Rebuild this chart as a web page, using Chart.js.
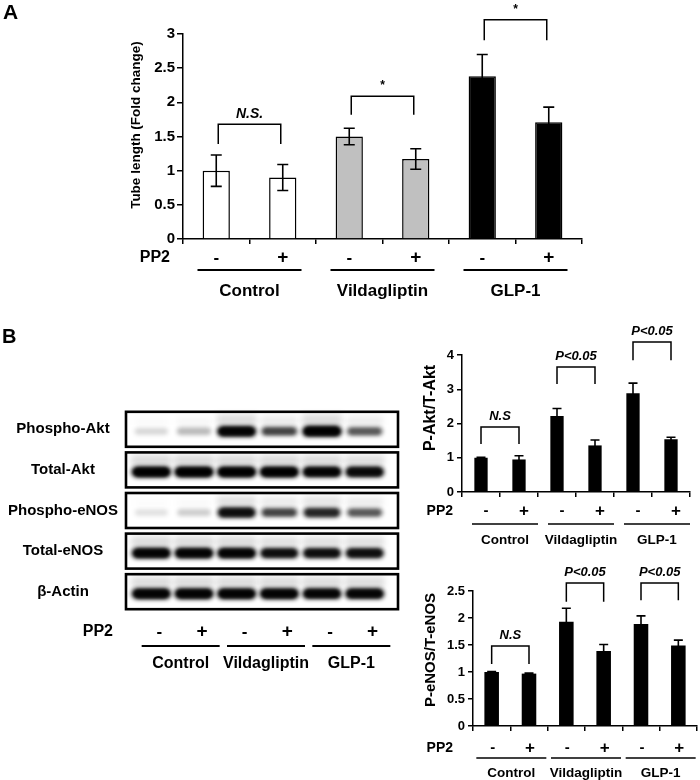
<!DOCTYPE html>
<html><head><meta charset="utf-8">
<script src="https://cdn.jsdelivr.net/npm/chart.js@4.4.1/dist/chart.umd.min.js"></script>
<style>
html,body{margin:0;padding:0;background:#fff;}
#wrap{position:relative;width:700px;height:780px;background:#fff;}
#wrap canvas{position:absolute;left:0;top:0;}
</style></head><body>
<div id="wrap">
<canvas id="cA" width="700" height="780"></canvas>
<canvas id="cB1" width="700" height="780"></canvas>
<canvas id="cB2" width="700" height="780"></canvas>
<canvas id="cBlot" width="700" height="780"></canvas>
</div>
<script>
// ---------------- DATA ----------------
const groups = ['Control', 'Vildagliptin', 'GLP-1'];
const pp2 = ['-', '+', '-', '+', '-', '+'];
const lanes = ['Control -', 'Control +', 'Vildagliptin -', 'Vildagliptin +', 'GLP-1 -', 'GLP-1 +'];

const tubeLength    = [1.00, 0.90, 1.50, 1.17, 2.38, 1.71];
const tubeLengthErr = [0.23, 0.19, 0.12, 0.15, 0.32, 0.22];
const sigA = ['N.S.', '*', '*'];

const pAktRatio    = [1.00, 0.95, 2.22, 1.36, 2.88, 1.54];
const pAktRatioErr = [0.01, 0.11, 0.22, 0.16, 0.30, 0.06];
const peNOSRatio    = [1.00, 0.97, 1.93, 1.39, 1.89, 1.49];
const peNOSRatioErr = [0.01, 0.01, 0.25, 0.12, 0.15, 0.10];
const sigB = ['N.S', 'P<0.05', 'P<0.05'];

const yTicksA = [0, 0.5, 1, 1.5, 2, 2.5, 3];
const yTicksAkt = [0, 1, 2, 3, 4];
const yTicksENOS = [0, 0.5, 1, 1.5, 2, 2.5];

const blotRows = ['Phospho-Akt', 'Total-Akt', 'Phospho-eNOS', 'Total-eNOS', 'β-Actin'];
const phosphoAktBands  = [0.16, 0.28, 0.97, 0.62, 1.00, 0.55];
const totalAktBands    = [1.00, 1.00, 1.00, 1.00, 0.97, 0.92];
const phosphoENOSBands = [0.12, 0.20, 0.88, 0.62, 0.75, 0.55];
const totalENOSBands   = [0.97, 0.97, 0.97, 0.88, 0.88, 0.88];
const betaActinBands   = [0.97, 0.97, 0.97, 0.97, 0.95, 0.95];

// ---------------- HELPERS ----------------
const FAM = '"Liberation Sans", Arial, Helvetica, sans-serif';
function fnt(size, bold = true, italic = false) {
  return (italic ? 'italic ' : '') + (bold ? 'bold ' : '') + size + 'px ' + FAM;
}
Chart.defaults.font.family = FAM;
Chart.defaults.color = '#000';

const figPlugin = {
  id: 'figAnnot',
  afterDraw(chart, args, o) {
    const ctx = chart.ctx;
    const ys = chart.scales.y;
    const ds = chart.data.datasets[0];
    const meta = chart.getDatasetMeta(0);
    ctx.save();
    ctx.strokeStyle = '#000';
    ctx.fillStyle = '#000';
    ctx.lineCap = 'butt';
    // error bars
    ctx.lineWidth = o.errWidth;
    ds.data.forEach((v, i) => {
      const e = ds.errors[i];
      const el = meta.data[i];
      const yh = ys.getPixelForValue(v + e), yl = ys.getPixelForValue(v - e);
      ctx.beginPath();
      ctx.moveTo(el.x, yl); ctx.lineTo(el.x, yh);
      ctx.moveTo(el.x - o.cap, yh); ctx.lineTo(el.x + o.cap, yh);
      ctx.moveTo(el.x - o.cap, yl); ctx.lineTo(el.x + o.cap, yl);
      ctx.stroke();
    });
    // brackets
    ctx.lineWidth = o.brWidth;
    ctx.textAlign = 'center';
    ctx.textBaseline = 'middle';
    o.brackets.forEach((b, g) => {
      const x1 = meta.data[2 * g].x + o.brInset, x2 = meta.data[2 * g + 1].x - o.brInset;
      const yt = ys.getPixelForValue(b.top), yl = ys.getPixelForValue(b.leg);
      ctx.beginPath();
      ctx.moveTo(x1, yl); ctx.lineTo(x1, yt); ctx.lineTo(x2, yt); ctx.lineTo(x2, yl);
      ctx.stroke();
      ctx.font = b.text === '*' ? fnt(o.starSize, true) : fnt(o.sigSize, true, true);
      ctx.fillText(b.text, (x1 + x2) / 2, yt - o.sigGap);
    });
    // PP2 row, underlines, groups
    const r = o.row;
    ctx.font = fnt(r.size);
    ctx.textAlign = 'right';
    ctx.fillText('PP2', r.labelX, r.signY);
    ctx.textAlign = 'center';
    pp2.forEach((s, i) => {
      ctx.font = fnt(s === '-' ? r.size + 1 : r.size + 3);
      ctx.fillText(s, meta.data[i].x + r.dx, r.signY);
    });
    ctx.lineWidth = r.lineW;
    groups.forEach((gname, g) => {
      const cx = (meta.data[2 * g].x + meta.data[2 * g + 1].x) / 2 + r.dx;
      ctx.beginPath();
      ctx.moveTo(cx - r.half, r.lineY); ctx.lineTo(cx + r.half, r.lineY);
      ctx.stroke();
      ctx.font = fnt(r.gsize);
      ctx.fillText(gname, cx, r.groupY);
    });
    // y title
    if (o.yTitle) {
      const t = o.yTitle;
      ctx.save();
      ctx.translate(t.x, t.y);
      ctx.rotate(-Math.PI / 2);
      ctx.font = fnt(t.size);
      ctx.textAlign = 'center';
      ctx.textBaseline = 'middle';
      ctx.fillText(t.text, 0, 0);
      ctx.restore();
    }
    if (o.letter) {
      ctx.font = fnt(o.letter.size);
      ctx.textAlign = 'left';
      ctx.textBaseline = 'middle';
      ctx.fillText(o.letter.text, o.letter.x, o.letter.y);
    }
    ctx.restore();
  }
};

function barChart(id, cfg) {
  const ticks = cfg.yTicks;
  return new Chart(document.getElementById(id), {
    type: 'bar',
    data: {
      labels: lanes,
      datasets: [{
        data: cfg.values,
        errors: cfg.errors,
        backgroundColor: cfg.colors,
        borderColor: '#000',
        borderWidth: cfg.borderWidth,
        barPercentage: cfg.barPct,
        categoryPercentage: 1.0
      }]
    },
    options: {
      responsive: false,
      animation: false,
      events: [],
      layout: { padding: cfg.padding },
      plugins: {
        legend: { display: false },
        tooltip: { enabled: false },
        figAnnot: cfg.annot
      },
      scales: {
        x: {
          grid: { display: true, drawOnChartArea: false, drawTicks: true, tickLength: cfg.xTick, color: '#000', lineWidth: 1.5, offset: true },
          border: { display: true, color: '#000', width: 1.5 },
          ticks: { display: false },
          afterFit: s => { s.height = cfg.xTick; }
        },
        y: {
          min: ticks[0], max: ticks[ticks.length - 1],
          afterBuildTicks: s => { s.ticks = ticks.map(v => ({ value: v })); },
          ticks: {
            color: '#000', font: { size: cfg.tickSize, weight: 'bold' }, padding: cfg.tickPad,
            callback: v => String(Number(v))
          },
          grid: { display: true, drawOnChartArea: false, drawTicks: true, tickLength: cfg.yTick, color: '#000', lineWidth: 1.5 },
          border: { display: true, color: '#000', width: 1.5 },
          afterFit: s => { s.width = cfg.yWidth; }
        }
      }
    },
    plugins: [figPlugin]
  });
}

// ---------------- PANEL A ----------------
barChart('cA', {
  values: tubeLength, errors: tubeLengthErr,
  colors: ['#ffffff', '#ffffff', '#c0c0c0', '#c0c0c0', '#000000', '#000000'],
  borderWidth: 1.5, barPct: 0.41,
  padding: { left: 127, right: 118, top: 34, bottom: 536 },
  xTick: 5, yTick: 6, yWidth: 56, tickSize: 15, tickPad: 2, yTicks: yTicksA,
  annot: {
    errWidth: 1.6, cap: 5.5, brWidth: 1.5, brInset: 2, sigGap: 10, sigSize: 14, starSize: 12,
    brackets: [
      { top: 1.68, leg: 1.39, text: sigA[0] },
      { top: 2.09, leg: 1.82, text: sigA[1] },
      { top: 3.21, leg: 2.91, text: sigA[2] }
    ],
    row: { labelX: 170, signY: 258, lineY: 270, groupY: 291, dx: 0, half: 52, size: 16, gsize: 17, lineW: 1.8 },
    yTitle: { text: 'Tube length (Fold change)', x: 136, y: 125, size: 13.5 },
    letter: { text: 'A', x: 3, y: 13, size: 21 }
  }
});

// ---------------- PANEL B : P-Akt/T-Akt ----------------
barChart('cB1', {
  values: pAktRatio, errors: pAktRatioErr,
  colors: '#000000', borderWidth: 0, barPct: 0.35,
  padding: { left: 420, right: 10, top: 355, bottom: 283 },
  xTick: 5, yTick: 5, yWidth: 42, tickSize: 13, tickPad: 3, yTicks: yTicksAkt,
  annot: {
    errWidth: 1.6, cap: 4.5, brWidth: 1.5, brInset: 0, sigGap: 11, sigSize: 13, starSize: 12,
    brackets: [
      { top: 1.90, leg: 1.40, text: sigB[0] },
      { top: 3.65, leg: 3.15, text: sigB[1] },
      { top: 4.38, leg: 3.85, text: sigB[2] }
    ],
    row: { labelX: 453, signY: 511, lineY: 524, groupY: 540, dx: 5, half: 33, size: 14, gsize: 13.5, lineW: 1.6 },
    yTitle: { text: 'P-Akt/T-Akt', x: 431, y: 408, size: 16 },
    letter: { text: 'B', x: 2, y: 337, size: 20 }
  }
});

// ---------------- PANEL B : P-eNOS/T-eNOS ----------------
barChart('cB2', {
  values: peNOSRatio, errors: peNOSRatioErr,
  colors: '#000000', borderWidth: 0, barPct: 0.39,
  padding: { left: 420, right: 3, top: 591, bottom: 49 },
  xTick: 5, yTick: 5, yWidth: 53, tickSize: 13, tickPad: 3, yTicks: yTicksENOS,
  annot: {
    errWidth: 1.6, cap: 4.5, brWidth: 1.5, brInset: 0, sigGap: 10.5, sigSize: 13, starSize: 12,
    brackets: [
      { top: 1.48, leg: 1.15, text: sigB[0] },
      { top: 2.65, leg: 2.30, text: sigB[1] },
      { top: 2.65, leg: 2.33, text: sigB[2] }
    ],
    row: { labelX: 453, signY: 748, lineY: 758, groupY: 773, dx: 1, half: 35, size: 14, gsize: 13.5, lineW: 1.6 },
    yTitle: { text: 'P-eNOS/T-eNOS', x: 431, y: 650, size: 15 }
  }
});

// ---------------- PANEL B : western blots ----------------
const bandSets = [phosphoAktBands, totalAktBands, phosphoENOSBands, totalENOSBands, betaActinBands];

const blotPlugin = {
  id: 'blotDraw',
  afterDatasetsDraw(chart, args, o) {
    const ctx = chart.ctx;
    const ys = chart.scales.y, xs = chart.scales.x;
    ctx.save();
    // bands
    chart.data.datasets.forEach((ds, di) => {
      const meta = chart.getDatasetMeta(di);
      meta.data.forEach((el, j) => {
        const a = ds.data[j].v;
        const w = 32 + 8 * a, h = 6 + 5 * a;
        const cx = el.x, cy = el.y + 2;
        ctx.save();
        // faint smear above the band
        ctx.filter = 'blur(3px)';
        ctx.fillStyle = 'rgba(0,0,0,' + (0.14 * a) + ')';
        ctx.fillRect(cx - w / 2, cy - h - 6, w, h);
        // main band
        ctx.filter = 'blur(2.2px)';
        ctx.fillStyle = 'rgba(0,0,0,' + a + ')';
        ctx.beginPath();
        ctx.roundRect(cx - w / 2, cy - h / 2, w, h, h / 2);
        ctx.fill();
        if (a > 0.5) {
          ctx.filter = 'blur(1.5px)';
          ctx.fillStyle = 'rgba(0,0,0,' + (a - 0.3) + ')';
          ctx.beginPath();
          ctx.roundRect(cx - w / 2 + 3, cy - h / 2 + 1, w - 6, h - 2, (h - 2) / 2);
          ctx.fill();
        }
        ctx.restore();
      });
    });
    // frames and row labels
    ctx.strokeStyle = '#000';
    ctx.fillStyle = '#000';
    ctx.lineWidth = 2.6;
    ctx.textAlign = 'center';
    ctx.textBaseline = 'middle';
    ctx.font = fnt(15);
    blotRows.forEach((name, i) => {
      const cy = ys.getPixelForValue(i);
      ctx.strokeRect(o.boxL, cy - o.boxH / 2, o.boxR - o.boxL, o.boxH);
      ctx.fillText(name, o.labelX, cy);
    });
    // PP2 row
    ctx.font = fnt(16);
    ctx.textAlign = 'right';
    ctx.fillText('PP2', 113, 632);
    ctx.textAlign = 'center';
    pp2.forEach((s, j) => {
      ctx.font = fnt(s === '-' ? 17 : 19);
      ctx.fillText(s, xs.getPixelForValue(j) + 8, 632);
    });
    ctx.lineWidth = 1.8;
    groups.forEach((g, k) => {
      const cx = (xs.getPixelForValue(2 * k) + xs.getPixelForValue(2 * k + 1)) / 2 + 8;
      ctx.beginPath();
      ctx.moveTo(cx - 39, 646); ctx.lineTo(cx + 39, 646);
      ctx.stroke();
      ctx.font = fnt(16);
      ctx.fillText(g, cx, 664);
    });
    ctx.restore();
  }
};

new Chart(document.getElementById('cBlot'), {
  type: 'scatter',
  data: {
    datasets: bandSets.map((arr, i) => ({
      data: lanes.map((l, j) => ({ x: l, y: blotRows[i], v: arr[j] })),
      pointRadius: 0,
      showLine: false
    }))
  },
  options: {
    responsive: false,
    animation: false,
    events: [],
    layout: { padding: { left: 130, right: 314, top: 409, bottom: 168 } },
    plugins: {
      legend: { display: false },
      tooltip: { enabled: false },
      blotDraw: { boxL: 126, boxR: 398, boxH: 35, labelX: 63 }
    },
    scales: {
      x: { type: 'category', labels: lanes, offset: true, display: false },
      y: { type: 'category', labels: blotRows, offset: true, display: false }
    }
  },
  plugins: [blotPlugin]
});
</script>
</body></html>
